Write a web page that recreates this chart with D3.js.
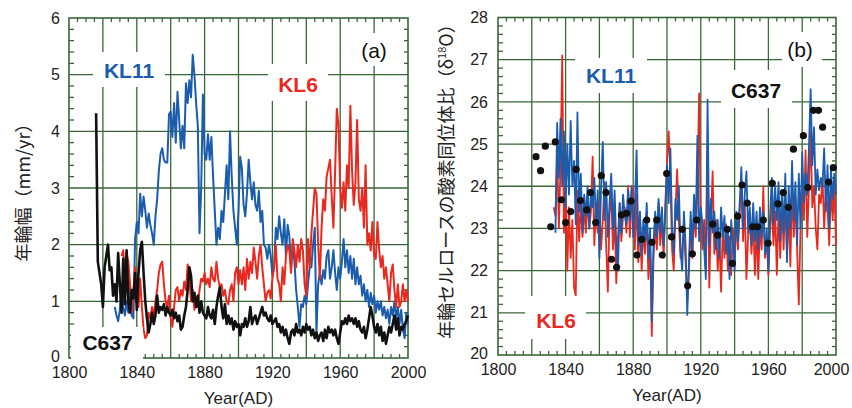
<!DOCTYPE html>
<html>
<head>
<meta charset="utf-8">
<script src="https://cdn.jsdelivr.net/npm/d3@7"></script>
<style>
body { margin: 0; background: #fff; }
svg { font-family: "Liberation Sans", Arial, sans-serif; }
.tick text { font-size: 16px; fill: #222; }
</style>
</head>
<body>
<div id="chart"></div>
<script>
// ---- data ----
// (a) ring width, mm/yr
var c637WidthStart = 1816;
var c637Width = [4.32,1.7,1.5,1.3,0.9,1.6,1.8,2.0,1.55,1.6,1.1,1.3,1.0,1.85,1.3,0.8,1.75,0.95,1.9,1.0,
  0.8,1.2,1.05,1.5,0.85,1.5,1.9,2.05,1.5,1.0,0.7,0.45,0.6,0.8,0.6,0.75,1.1,0.8,0.9,0.85,
  0.95,0.75,0.9,0.8,0.75,0.85,0.7,0.8,0.65,0.75,0.5,0.55,0.75,0.9,1.2,1.6,1.45,1.0,1.15,0.9,
  1.1,0.8,1.0,0.8,0.75,0.7,0.9,0.75,0.7,0.85,0.6,0.9,1.1,1.25,0.9,0.7,0.95,0.6,0.75,0.6,
  0.7,0.5,0.65,0.55,0.6,0.4,0.6,0.55,0.7,0.55,0.65,0.9,0.6,0.7,0.75,0.6,0.7,0.8,0.9,0.75,
  0.8,0.7,0.65,0.75,0.6,0.65,0.7,0.55,0.6,0.45,0.55,0.4,0.5,0.35,0.25,0.45,0.5,0.4,0.6,0.45,
  0.5,0.4,0.55,0.45,0.6,0.5,0.55,0.4,0.5,0.35,0.45,0.3,0.4,0.45,0.3,0.5,0.35,0.55,0.45,0.5,
  0.4,0.5,0.35,0.25,0.45,0.65,0.6,0.7,0.6,0.75,0.65,0.7,0.6,0.7,0.55,0.65,0.5,0.45,0.55,0.35,
  0.5,0.7,0.9,0.75,0.55,0.45,0.6,0.4,0.55,0.3,0.45,0.25,0.4,0.55,0.45,0.6,0.75,0.5,0.7,0.4,
  0.55,0.5,0.6,0.65,0.75];

var kl11WidthStart = 1827;
var kl11Width = [0.9,0.75,0.65,0.85,1.25,0.9,0.75,1.0,0.8,1.3,0.75,0.7,2.1,2.4,2.2,2.9,2.5,2.85,2.6,2.3,
  2.55,2.35,2.2,2.0,2.5,2.8,3.3,3.6,3.7,3.5,3.45,3.45,4.3,4.35,3.9,4.5,3.8,4.7,4.2,3.7,
  4.1,3.7,4.85,4.5,4.9,4.6,5.35,5.0,4.5,4.1,2.2,3.0,4.65,3.6,3.5,3.95,3.5,3.9,3.2,2.6,
  2.0,2.3,2.1,2.6,2.4,2.9,3.4,2.8,4.0,3.2,2.6,2.3,2.0,2.6,3.55,3.35,2.7,2.5,2.9,3.5,
  3.1,2.8,3.1,2.7,2.6,2.95,2.4,2.6,2.0,1.95,1.75,2.0,1.8,1.45,1.6,2.3,2.1,2.5,2.2,2.0,
  2.45,1.8,2.35,2.15,1.6,2.0,1.7,1.2,0.9,0.55,0.95,0.9,1.1,0.95,1.3,1.6,1.6,2.0,2.3,0.45,
  1.3,1.5,1.3,1.55,1.4,1.8,1.9,1.4,1.6,1.9,1.5,1.2,1.6,1.4,1.7,2.1,1.6,1.9,1.5,1.8,
  1.4,1.75,1.3,1.6,1.3,1.45,1.1,1.3,1.0,1.2,0.9,1.15,0.95,1.1,0.8,1.0,0.85,1.0,0.75,0.9,
  0.7,0.85,0.6,0.9,0.75,1.0,0.7,0.9,0.6,0.85,0.5,0.35,0.8,0.6];

var kl6WidthStart = 1831;
var kl6Width = [1.8,1.9,1.5,1.85,1.7,1.3,0.8,1.2,1.6,1.0,0.9,1.4,0.9,0.5,0.35,0.4,0.8,0.7,0.9,0.75,
  1.0,1.2,1.5,1.65,1.7,1.3,1.0,0.9,1.1,0.7,0.55,0.9,1.2,1.25,1.0,1.2,1.1,1.35,1.2,1.65,
  1.4,1.0,1.2,0.85,1.0,0.9,1.2,1.4,1.35,1.5,1.3,1.4,1.25,1.6,1.4,1.35,1.7,1.4,1.25,1.3,
  1.1,1.2,1.0,0.95,1.2,1.3,1.0,1.5,1.6,1.3,1.55,1.3,1.6,1.2,1.75,1.4,1.7,1.5,1.95,1.7,
  1.4,1.8,2.0,1.6,1.3,1.0,1.15,1.2,1.05,1.4,1.6,2.0,1.4,1.3,1.0,1.6,1.3,1.8,2.0,1.9,
  1.5,2.1,1.9,1.6,2.0,1.7,2.1,1.9,1.3,1.1,2.1,1.6,2.2,2.6,3.0,2.9,2.0,1.4,2.3,2.8,
  2.6,3.2,3.35,3.5,2.85,2.3,3.3,4.4,4.1,3.0,2.65,3.1,2.6,3.4,3.0,4.45,3.3,2.7,3.1,4.2,
  2.8,2.6,3.0,2.3,3.4,2.0,2.2,1.9,2.4,1.8,1.75,2.4,1.9,1.6,1.8,1.4,1.6,1.3,1.0,1.5,
  1.65,1.2,0.9,1.3,0.9,1.0,1.3,1.0,1.2,1.0];

// (b) cellulose oxygen isotope ratio, d18O
var kl11IsoStart = 1834;
var kl11Iso = [22.9,25.5,24.2,25.6,24.0,25.3,23.5,25.0,23.8,25.55,24.0,24.6,23.1,25.75,23.4,24.3,
  22.9,23.8,23.3,24.0,23.0,23.9,23.5,24.2,23.1,23.9,22.3,24.0,25.05,23.2,24.1,22.8,23.6,24.3,23.0,23.9,
  22.6,22.0,23.6,22.9,23.8,23.3,23.1,23.9,23.2,24.0,22.8,23.5,24.85,22.6,23.4,22.4,23.2,22.7,23.6,22.3,
  23.0,20.8,22.6,23.4,22.8,23.7,22.9,23.5,22.6,23.3,24.5,23.6,24.9,23.0,22.4,23.7,23.2,24.0,22.5,22.0,
  23.4,22.6,20.95,22.2,23.4,22.5,23.8,23.0,25.2,22.7,23.5,23.1,22.5,21.8,26.05,22.6,23.7,22.9,23.4,22.5,
  23.2,22.3,23.5,22.8,23.3,22.4,23.0,21.8,23.2,22.6,22.0,23.4,22.7,23.6,24.45,23.0,23.8,24.35,22.9,23.5,
  22.6,23.6,22.7,23.4,22.5,23.5,22.8,23.4,22.4,23.0,22.0,23.3,24.2,23.1,24.0,23.2,24.1,22.7,23.9,22.9,
  24.3,22.2,24.0,23.0,24.6,23.2,24.1,22.6,24.3,23.0,24.8,23.6,24.3,23.8,24.9,26.3,24.5,25.4,23.8,24.4,
  23.9,24.2,24.0,24.9,23.4,24.5,23.0,24.4,23.7,24.3,23.8];

var kl6IsoStart = 1833;
var kl6Iso = [23.5,23.3,24.8,23.0,24.5,27.1,22.9,24.0,22.0,23.5,22.3,23.2,21.6,21.4,23.9,22.7,23.6,
  22.8,23.5,22.9,23.7,23.0,23.4,24.7,22.6,23.5,22.9,23.6,22.5,23.2,24.1,22.6,21.5,23.3,23.9,22.5,23.3,
  21.7,22.8,23.6,22.7,23.3,23.5,22.9,24.0,22.8,23.6,24.0,22.5,23.8,22.2,23.2,22.0,23.0,22.4,23.4,21.8,
  22.8,20.45,22.3,23.1,22.5,23.6,22.6,23.2,22.3,23.6,24.6,25.3,24.2,22.5,22.0,23.4,24.4,23.2,22.3,22.5,
  23.0,22.2,21.3,22.0,23.1,22.3,23.4,22.8,24.0,26.2,23.0,22.5,23.2,22.0,25.0,21.6,23.2,24.35,22.4,23.2,
  22.0,22.8,21.5,23.0,22.3,23.1,22.0,22.8,21.9,23.0,22.2,23.3,22.5,23.4,24.0,22.7,23.6,21.8,22.8,23.2,
  22.4,23.3,21.9,23.0,21.8,23.1,22.5,24.0,22.3,22.8,21.9,23.0,23.6,22.6,23.4,21.9,23.5,22.3,23.6,22.5,
  23.8,22.4,23.5,22.1,24.0,22.8,23.7,22.5,21.2,23.0,24.0,23.2,24.85,22.8,24.0,25.3,23.5,24.0,23.0,22.5,
  23.8,23.6,24.2,23.0,23.9,23.5,22.6,24.0,23.2,24.1,22.6];

// C637 isotope points (year, value)
var c637IsoYears = [1822.5,1825.2,1828,1831.2,1833.9,1837.5,1840,1843,1846.2,1848.8,1852.5,1854.8,1857.8,
  1861.1,1863.9,1867.2,1870.2,1873,1876.1,1878.7,1882.2,1885,1888,1891.1,1893.9,1897.2,1899.8,1902.7,
  1909,1912.2,1915,1917.6,1927,1930,1935.7,1938.7,1941.8,1944.4,1947.5,1950.7,1953.6,1957,1959.8,
  1962.3,1965.7,1968.8,1971.8,1974.8,1980.7,1983.3,1986.6,1989.6,1992.1,1995.5,1998.4];
var c637IsoValues = [24.70,24.37,24.95,23.04,25.05,23.68,23.14,23.4,24.4,23.66,23.44,23.85,23.14,
  24.25,23.85,22.27,22.08,23.32,23.36,23.65,22.37,22.74,23.2,22.67,23.2,22.37,24.3,22.8,
  22.98,21.64,22.4,23.2,23.1,22.84,22.98,22.17,23.29,24.03,23.6,23.04,23.04,23.2,22.65,
  24.07,23.58,23.85,23.5,24.88,25.2,23.97,25.8,25.8,25.4,24.1,24.44];

var xTickLabels = [1800, 1840, 1880, 1920, 1960, 2000];

var blue = "#1b5cad", red = "#e8291f", gridColor = "#3a663a";

function toPoints(start, values) {
    return values.map(function(v, i) { return {year: start + i, v: v}; });
}

var svg = d3.select("#chart").append("svg")
    .attr("width", 852)
    .attr("height", 408);

// frame, grid, ticks for one panel
function drawPanel(p) {
    var width = p.right - p.left;
    var height = p.bottom - p.top;
    var g = svg.append("g")
        .attr("transform", "translate(" + p.left + "," + p.top + ")");

    var x = d3.scaleLinear().domain([1800, 2000]).range([0, width]);
    var y = d3.scaleLinear().domain(p.yDomain).range([height, 0]);

    var grid = g.append("g").attr("stroke", gridColor).attr("stroke-width", 1.3);
    grid.selectAll(".vg")
        .data(d3.range(1820, 2000, 20))
        .enter().append("line")
        .attr("x1", function(d) { return x(d); })
        .attr("x2", function(d) { return x(d); })
        .attr("y1", 0).attr("y2", height);
    grid.selectAll(".hg")
        .data(d3.range(p.yDomain[0] + 1, p.yDomain[1]))
        .enter().append("line")
        .attr("y1", function(d) { return y(d); })
        .attr("y2", function(d) { return y(d); })
        .attr("x1", 0).attr("x2", width);

    // minor ticks
    var minorX = d3.range(1805, 2000, 5).filter(function(d) { return d % 20 != 0; });
    var minorY = d3.range(p.yDomain[0] * 5 + 1, p.yDomain[1] * 5)
        .filter(function(d) { return d % 5 != 0; })
        .map(function(d) { return d / 5; });
    var tl = 4;
    grid.selectAll(".mb").data(minorX).enter().append("line")
        .attr("x1", function(d) { return x(d); }).attr("x2", function(d) { return x(d); })
        .attr("y1", height).attr("y2", height - tl);
    grid.selectAll(".mt").data(minorX).enter().append("line")
        .attr("x1", function(d) { return x(d); }).attr("x2", function(d) { return x(d); })
        .attr("y1", 0).attr("y2", tl);
    grid.selectAll(".ml").data(minorY).enter().append("line")
        .attr("y1", function(d) { return y(d); }).attr("y2", function(d) { return y(d); })
        .attr("x1", 0).attr("x2", tl + 1);
    grid.selectAll(".mr").data(minorY).enter().append("line")
        .attr("y1", function(d) { return y(d); }).attr("y2", function(d) { return y(d); })
        .attr("x1", width).attr("x2", width - tl);

    g.append("rect")
        .attr("width", width).attr("height", height)
        .attr("fill", "none")
        .attr("stroke", gridColor)
        .attr("stroke-width", 1.6);

    var xAxis = d3.axisBottom(x).tickValues(xTickLabels).tickSize(0).tickPadding(9).tickFormat(d3.format("d"));
    var yAxis = d3.axisLeft(y).ticks(p.yDomain[1] - p.yDomain[0]).tickSize(0).tickPadding(p.yPad).tickFormat(d3.format("d"));
    var xAxisg = g.append("g").attr("transform", "translate(0," + height + ")").call(xAxis);
    var yAxisg = g.append("g").call(yAxis);
    xAxisg.select(".domain").remove();
    yAxisg.select(".domain").remove();
    // keep the last year label inside the page, as in the figure
    xAxisg.selectAll("text").filter(function(d) { return d == 2000; }).attr("dx", p.lastShift);
    yAxisg.selectAll("text").filter(function(d) { return d == p.yDomain[0]; }).attr("dy", "0.2em");

    g.append("text")
        .attr("x", width / 2)
        .attr("y", height + 46)
        .attr("text-anchor", "middle")
        .style("font-size", "17px")
        .attr("fill", "#222")
        .text("Year(AD)");

    return {g: g, x: x, y: y};
}

// label with white box that breaks the grid lines
function addLabel(box, text, cx, base, color, bold, size) {
    svg.append("rect")
        .attr("x", box[0]).attr("y", box[1])
        .attr("width", box[2] - box[0]).attr("height", box[3] - box[1])
        .attr("fill", "#fff");
    svg.append("text")
        .attr("x", cx).attr("y", base)
        .attr("text-anchor", "middle")
        .attr("fill", color)
        .style("font-size", size + "px")
        .style("font-weight", bold ? "bold" : "normal")
        .text(text);
}

function drawLine(panel, data, color, w) {
    var line = d3.line()
        .x(function(d) { return panel.x(d.year); })
        .y(function(d) { return panel.y(d.v); });
    panel.g.append("path")
        .datum(data)
        .attr("d", line)
        .attr("fill", "none")
        .attr("stroke", color)
        .attr("stroke-width", w)
        .attr("stroke-linejoin", "round");
}

// ---- panel (a) ----
var pa = drawPanel({left: 69, right: 408, top: 18, bottom: 358, yDomain: [0, 6], yPad: 9, lastShift: 0});
addLabel([93, 52, 165, 87], "KL11", 129, 78, blue, true, 21);
addLabel([268, 64, 328, 101], "KL6", 298, 92, red, true, 21);
addLabel([352, 33, 396, 66], "(a)", 374, 58, "#111", false, 21);
addLabel([71, 327, 143, 362], "C637", 107.5, 350, "#111", true, 21);

drawLine(pa, toPoints(kl11WidthStart, kl11Width), blue, 2);
drawLine(pa, toPoints(kl6WidthStart, kl6Width), red, 2);
drawLine(pa, toPoints(c637WidthStart, c637Width), "#111", 2.6);

// ---- panel (b) ----
var pb = drawPanel({left: 498, right: 836, top: 17.5, bottom: 355, yDomain: [20, 28], yPad: 10, lastShift: -5});
addLabel([575, 58, 647, 93], "KL11", 611, 83, blue, true, 21);
addLabel([721, 70, 792, 108], "C637", 756, 98, "#111", true, 21);
addLabel([782, 32, 822, 67], "(b)", 800, 57, "#111", false, 21);
addLabel([525, 296, 586, 339], "KL6", 556, 328, red, true, 21);

drawLine(pb, toPoints(kl6IsoStart, kl6Iso), red, 1.8);
drawLine(pb, toPoints(kl11IsoStart, kl11Iso), blue, 1.8);

pb.g.append("g").selectAll("circle")
    .data(c637IsoYears)
    .enter().append("circle")
    .attr("cx", function(d) { return pb.x(d); })
    .attr("cy", function(d, i) { return pb.y(c637IsoValues[i]); })
    .attr("r", 3.6)
    .attr("fill", "#111");

// ---- y axis titles ----
svg.append("text")
    .attr("transform", "translate(30,188) rotate(-90)")
    .attr("text-anchor", "middle")
    .attr("fill", "#222")
    .style("font-size", "18px")
    .style("font-family", "'Noto Sans CJK JP', 'Liberation Sans', sans-serif")
    .text("年輪幅（mm/yr）");

var t2 = svg.append("text")
    .attr("transform", "translate(453,177) rotate(-90)")
    .attr("text-anchor", "middle")
    .attr("fill", "#222")
    .style("font-size", "18px")
    .style("font-family", "'Noto Sans CJK JP', 'Liberation Sans', sans-serif");
t2.append("tspan").text("年輪セルロースの酸素同位体比（δ");
t2.append("tspan").attr("dy", -7).style("font-size", "11px").text("18");
t2.append("tspan").attr("dy", 7).text("O）");
</script>
</body>
</html>
